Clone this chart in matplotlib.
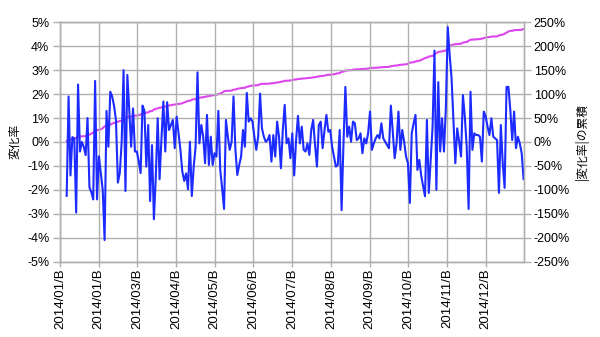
import numpy as np
import matplotlib
matplotlib.use("Agg")
import matplotlib.pyplot as plt
from matplotlib.ticker import FuncFormatter

# daily change rate (%), left to right
change_pct = [
    -2.25, 1.9, -1.4, 0.2, 0.15, -2.95, 2.4, -0.4, 0.0, -0.2, -0.55, 1.0, -1.9, -2.1,
    -2.4, 2.55, -2.4, -0.6, -1.3, -2.0, -4.1, 1.3, -0.2, 2.1, 1.9, 1.5, 0.9, -1.7,
    -1.3, 0.0, 3.0, -2.05, 2.8, 1.35, -0.2, 1.4, -0.4, -0.4, -0.8, -1.3,
    1.52, 1.3, -1.03, 0.71, -2.47, -0.13, -3.23, -1.45, 0.99, -1.56, 0.15, 1.69,
    -0.40, 1.66, 0.50, 0.71, 0.92, -0.26, 1.06, 0.36, -0.33, -1.24, -1.63, -1.31,
    -1.98, 0.01, -2.26, -1.03, -0.2, 2.91, -0.06, 0.71, 0.22, -0.89, 1.13, -0.96,
    0.22, -0.96, -0.47, -0.61, 1.3,
    -1.17, -1.95, -2.8, 0.92, 0.22, -0.33, 0.01, 1.9, -0.33, -1.38, -0.96, -0.61,
    0.5, -0.2, 2.05, 0.85, 0.99, 0.85, 0.22, -0.33, 0.22, 2.02, 0.57, 0.22, 0.01,
    0.08, 0.29, -0.82, 0.29, -0.61, 0.85, 0.22, -1.10, 0.5, 1.55, -0.06, 0.15,
    -0.68, 0.36, -1.4, 0.08,
    1.09, -0.06, 0.64, -0.33, -0.40, -0.06, -0.54, 0.5, 0.92, -0.13, -1.03, 0.71,
    0.85, -0.26, 0.5, 1.13, 0.43, 0.5, -0.2, -0.61, -1.03, -0.96, 0.5, -2.85, -0.06,
    2.3, 0.22, 0.64, 0.01, 0.85, 0.78, 0.08, 0.15, 0.36, -0.47, 0.15,
    -0.06, 0.36, 1.27, -0.33, -0.06, 0.15, 0.29, 0.15, 0.78, 0.15, 0.01, -0.13,
    -0.26, 1.52, 0.43, -0.68, -0.06, 1.27, -0.33, 0.5, 0.01, -0.61, -0.89, -2.55,
    0.36, 0.78, 1.13, -1.17, -0.75, -1.4, -1.85, -2.27, 0.92, -2.13, -0.75, 0.64,
    3.82, -2.0, 2.5, -0.40, 0.99,
    -0.40, 1.42, 4.8, 3.65, 2.68, 0.85, -0.89, 0.57, 0.01, -0.61, 1.96, 1.06, -0.2,
    -2.8, 2.1, -0.33, 0.36, 0.29, 0.29, 0.22, -0.82, 1.27, 1.06, 0.64, 0.29, 0.99,
    0.22, 0.15, 0.08, -2.13, 0.71, -0.89, -1.92, 2.3, 2.3, 1.34, 0.08, 1.27, -0.26,
    0.22, -0.06, -0.47, -1.55,
]
tick_labels = ["2014/01/B", "2014/01/B", "2014/03/B", "2014/04/B", "2014/05/B",
               "2014/06/B", "2014/07/B", "2014/08/B", "2014/09/B", "2014/10/B",
               "2014/11/B", "2014/12/B"]
left_ticks = list(range(-5, 6))
right_ticks = list(range(-250, 251, 50))

BLUE = "#1c2bff"
MAGENTA = "#dd45ee"
GRID = "#b0b0b0"
LATIN = "Liberation Sans"
JP = ["Noto Sans CJK JP", "DejaVu Sans"]

vals = np.array(change_pct)
cum = np.cumsum(np.abs(vals))   # |変化率| の累積
n = len(vals)
x = np.arange(n)

fig = plt.figure(figsize=(6, 3.37), dpi=100)
ax = fig.add_axes([0.1, 0.2237, 0.7738, 0.7101])
ax2 = ax.twinx()
ax.set_zorder(ax2.get_zorder() + 1)   # blue line above the magenta one
ax.patch.set_visible(False)

ax.plot(x, vals, color=BLUE, lw=1.5, solid_joinstyle="round")
ax2.plot(x, cum, color=MAGENTA, lw=1.5)

# category axis: first point sits just inside the left edge, 12 tick slots
span = (n - 1) / (0.9985 - 0.0144)
x0 = -0.0144 * span
ax.set_xlim(x0, x0 + span)
ax.set_xticks(x0 + np.arange(len(tick_labels)) * span / 12)
ax.set_xticklabels(tick_labels, rotation=90, fontsize=9.5, family=LATIN)

ax.set_ylim(-5, 5)
ax.set_yticks(left_ticks)
ax.yaxis.set_major_formatter(FuncFormatter(lambda v, _: f"{v:.0f}%"))
ax2.set_ylim(-250, 250)
ax2.set_yticks(right_ticks)
ax2.yaxis.set_major_formatter(FuncFormatter(lambda v, _: f"{v:.0f}%"))
for lab in ax.get_yticklabels() + ax2.get_yticklabels():
    lab.set_family(LATIN)
    lab.set_fontsize(9)

ax.grid(True, color=GRID, lw=1)
ax.tick_params(axis="x", length=3.6, width=1, color=GRID, pad=1)
ax.tick_params(axis="y", length=4.8, width=1, color=GRID, pad=2.9)
ax2.tick_params(axis="y", length=4.8, width=1, color=GRID, pad=2)
for a in (ax, ax2):
    for sp in a.spines.values():
        sp.set_color(GRID)
        sp.set_linewidth(1)

fig.text(0.025, 0.58, "変化率", rotation=90, va="center", ha="center",
         fontsize=8.5, family=JP)
fig.text(0.97, 0.58, "|変化率|の累積", rotation=90, va="center", ha="center",
         fontsize=8.5, family=JP)

fig.savefig("out.png", dpi=100)
